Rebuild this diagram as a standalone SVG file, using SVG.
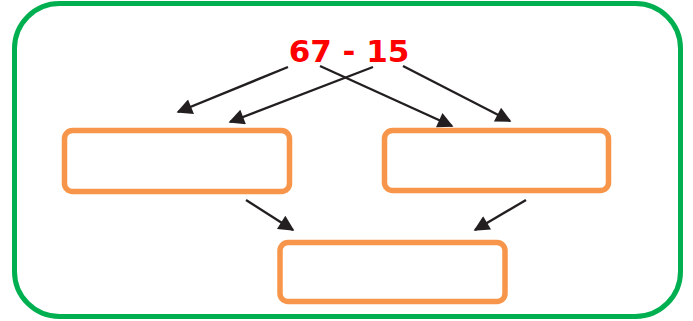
<svg xmlns="http://www.w3.org/2000/svg" width="693" height="321" viewBox="0 0 693 321">
<defs>
<style>
.box{fill:#fff;stroke:#f7964a;stroke-width:5.5}
.conn{stroke:#231f20;stroke-width:2.4;fill:none;marker-end:url(#ah)}
.lbl{font-family:"Comic Sans MS","DejaVu Sans",sans-serif;font-weight:bold;font-size:31px;fill:#ff0000}
</style>
<marker id="ah" viewBox="0 0 10 10" refX="9" refY="5" markerWidth="7.5" markerHeight="6.5" markerUnits="strokeWidth" orient="auto">
<path d="M0,0 L10,5 L0,10 z" fill="#231f20"/>
</marker>
</defs>
<rect x="14.5" y="3.5" width="666" height="313" rx="45" fill="#fff" stroke="#00b050" stroke-width="5"/>
<g id="expr"><text class="lbl" x="349" y="62" text-anchor="middle">67 - 15</text></g>
<g id="box-left"><rect class="box" x="64.5" y="130.5" width="225" height="61" rx="8"/></g>
<g id="box-right"><rect class="box" x="384.5" y="130.5" width="224" height="60" rx="8"/></g>
<g id="box-bottom"><rect class="box" x="280" y="242.5" width="225" height="59" rx="8"/></g>
<g id="connectors">
<line class="conn" x1="288" y1="67" x2="178" y2="112"/>
<line class="conn" x1="373" y1="67" x2="230" y2="122"/>
<line class="conn" x1="320" y1="66" x2="452" y2="126"/>
<line class="conn" x1="403" y1="66" x2="510" y2="121"/>
<line class="conn" x1="246" y1="200" x2="293" y2="230"/>
<line class="conn" x1="526" y1="200" x2="475" y2="230"/>
</g>
</svg>
